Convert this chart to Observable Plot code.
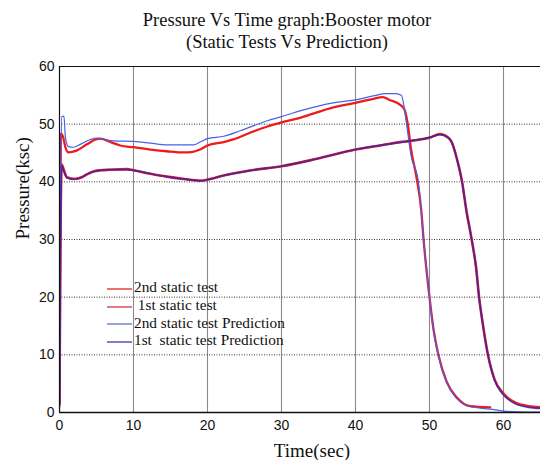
<!DOCTYPE html>
<html>
<head>
<meta charset="utf-8">
<script src="https://cdn.jsdelivr.net/npm/d3@7"></script>
<script src="https://cdn.jsdelivr.net/npm/@observablehq/plot@0.6"></script>
<style>
  html, body { margin: 0; padding: 0; background: #fff; }
  #wrap { position: relative; width: 540px; height: 460px; overflow: hidden; }
  #title { width: 506px; padding-left: 34px; padding-top: 9px; height: 49px; text-align: center;
           font-family: "Liberation Serif", "Times New Roman", serif; font-size: 18.5px; line-height: 22px; color: #111; }
  #legend { position: absolute; left: 106px; top: 278px; font-family: "Liberation Serif", serif; font-size: 15.3px; color: #111; }
  #legend .row { display: flex; align-items: center; height: 17.8px; white-space: pre; }
  #legend svg { display: block; margin-right: 1px; }
</style>
</head>
<body>
<div id="wrap">
  <div id="title">Pressure Vs Time graph:Booster motor<br>(Static Tests Vs Prediction)</div>
  <div id="chart"></div>
  <div id="legend"></div>
</div>
<script>
// ---- Data ----
const xTicks = [0, 10, 20, 30, 40, 50, 60];
const yTicks = [0, 10, 20, 30, 40, 50, 60];

// 2nd static test (upper red curve)
const test2T = [0, 0.1, 0.2, 0.5, 0.8, 1.2, 2.3, 3.7, 5, 5.5, 6.9, 8.2, 10, 12.3, 14.5, 16.8, 18, 19, 20, 22.2, 23.6, 25.9, 28.1, 30, 32.5, 37, 40, 42.4, 43.7, 44.6, 46, 46.6, 47.1, 47.5, 48.2, 48.9, 49.2, 50, 50.5, 51.2, 52.3, 53.7, 55.5, 58.2];
const test2V = [1.5, 30, 48.4, 47.7, 46, 45.1, 45.4, 46.5, 47.4, 47.5, 46.9, 46.3, 46, 45.6, 45.3, 45.1, 45.2, 45.6, 46.3, 46.9, 47.4, 48.6, 49.6, 50.3, 51.1, 52.9, 53.7, 54.4, 54.7, 54.2, 53.4, 52.6, 49.7, 45.7, 41.1, 34.9, 30, 20, 14.8, 10, 5.4, 2.6, 1.1, 0.9];

// 1st static test (lower red curve)
const test1T = [0, 0.1, 0.3, 0.6, 1, 2, 3, 3.7, 4.6, 5.5, 6.8, 9.1, 10, 12.3, 14.5, 16.8, 19, 20.4, 22.2, 25.9, 30, 34.8, 40, 43.7, 46, 47.4, 50.1, 51.4, 52.5, 53, 53.7, 54.4, 55, 55.7, 56.3, 56.7, 57.2, 57.9, 58.8, 59.9, 61.6, 63.4, 65];
const test1V = [1.5, 25, 43, 42, 40.8, 40.5, 40.8, 41.3, 41.8, 42, 42.1, 42.2, 42, 41.4, 40.9, 40.5, 40.2, 40.5, 41.1, 42, 42.7, 44, 45.6, 46.4, 46.9, 47.1, 47.7, 48.3, 47.7, 46.9, 44, 40, 34.9, 30, 25.1, 20, 15.4, 10, 5.7, 3.4, 1.7, 1.1, 0.9];

// 2nd static test prediction (upper blue curve)
const pred2T = [0, 0.15, 0.3, 0.6, 0.8, 1.2, 1.9, 2.8, 4.1, 5, 5.9, 7.3, 10, 12.3, 14.5, 18.1, 19, 20, 22.2, 24.5, 28.1, 30, 32.5, 37, 40, 42.4, 44.2, 45.4, 46.2, 46.5, 46.9, 47.5, 48.5, 49.2, 50, 50.5, 51.2, 52.3, 53.7, 55.5, 58.2, 60, 62, 65];
const pred2V = [0.5, 35, 51.3, 51.4, 47.7, 46.1, 46, 46.5, 47.3, 47.6, 47.4, 47.1, 47, 46.7, 46.4, 46.4, 46.9, 47.5, 47.9, 48.9, 50.6, 51.3, 52.3, 53.7, 54.2, 54.9, 55.3, 55.3, 55, 53.5, 50, 44.6, 40, 30, 20, 14.6, 9.8, 5.2, 2.4, 1.0, 0.6, 0.25, 0.1, 0.05];

// 1st static test prediction (lower blue curve)
const pred1T = [0, 0.1, 0.3, 0.6, 1, 2, 3, 3.7, 4.6, 5.5, 6.8, 9.1, 10, 12.3, 14.5, 16.8, 19, 20.4, 22.2, 25.9, 30, 34.8, 40, 43.7, 46, 47.4, 50.1, 51.4, 52.5, 53, 53.7, 54.4, 55, 55.7, 56.3, 56.7, 57.2, 57.9, 58.8, 59.9, 61.6, 63.4, 65];
const pred1V = [1, 25, 42.8, 41.8, 40.7, 40.5, 40.8, 41.3, 41.8, 42, 42.1, 42.1, 42, 41.4, 40.9, 40.5, 40.2, 40.5, 41.1, 42, 42.7, 44, 45.6, 46.4, 46.8, 47.1, 47.7, 48.2, 47.7, 46.8, 44, 40, 34.9, 30, 25, 20, 15.3, 10, 5.6, 3.2, 1.5, 0.9, 0.7];

const legendNames = ["2nd static test", " 1st static test", "2nd static test Prediction", "1st  static test Prediction"];
const legendColors = ["#e02424", "#d83040", "#6670c4", "#3c36a8"];

// ---- Build tables ----
const toRows = (ts, vs) => ts.map((t, i) => ({t, v: vs[i]}));
const test2 = toRows(test2T, test2V);
const test1 = toRows(test1T, test1V);
const pred2 = toRows(pred2T, pred2V);
const pred1 = toRows(pred1T, pred1V);

const serif = "Liberation Serif, Times New Roman, serif";
const sans = "Liberation Sans, Arial, sans-serif";

const chart = Plot.plot({
  width: 540,
  height: 402,
  marginTop: 8,
  marginBottom: 48,
  marginLeft: 59,
  marginRight: 0,
  style: {fontFamily: sans, fontSize: "14px", color: "#111", background: "#fff"},
  x: {domain: [0, 65]},
  y: {domain: [0, 60]},
  marks: [
    Plot.gridX(xTicks.filter(d => d > 0), {stroke: "#8a8a8a", strokeOpacity: 1, strokeWidth: 1.1}),
    Plot.gridY(yTicks.filter(d => d > 0 && d < 60), {stroke: "#222", strokeOpacity: 0.9, strokeDasharray: "1,1.5"}),
    Plot.ruleY([60], {stroke: "#111", strokeWidth: 1.2}),
    Plot.line(test2, {x: "t", y: "v", stroke: "#ee1b1b", strokeWidth: 2.3, curve: "monotone-x", clip: true}),
    Plot.line(test1, {x: "t", y: "v", stroke: "#e8202a", strokeWidth: 2.6, curve: "monotone-x", clip: true}),
    Plot.line(pred2, {x: "t", y: "v", stroke: "#4a5fe6", strokeWidth: 1.2, curve: "monotone-x", clip: true}),
    Plot.line(pred1, {x: "t", y: "v", stroke: "#3a22a8", strokeWidth: 1.7, strokeOpacity: 0.85, curve: "monotone-x", clip: true}),
    Plot.ruleX([0], {stroke: "#111", strokeWidth: 1.2}),
    Plot.ruleY([0], {stroke: "#111", strokeWidth: 1.6}),
    Plot.axisX(xTicks, {tickSize: 0, tickPadding: 8, label: null, fontSize: 14}),
    Plot.axisY(yTicks, {tickSize: 0, tickPadding: 5, label: null, fontSize: 14}),
    Plot.text(["Time(sec)"], {frameAnchor: "bottom", dy: 38, dx: 12, lineAnchor: "middle", fontSize: 19, fontFamily: serif, fill: "#111"}),
    Plot.text(["Pressure(ksc)"], {frameAnchor: "left", rotate: -90, dx: -37, lineAnchor: "middle", fontSize: 19, fontFamily: serif, fill: "#111"})
  ]
});
document.getElementById("chart").appendChild(chart);

// ---- Legend ----
const legend = document.getElementById("legend");
legendNames.forEach((name, i) => {
  const row = document.createElement("div");
  row.className = "row";
  row.innerHTML = `<svg width="27" height="10"><line x1="1" x2="26" y1="7" y2="7" stroke="${legendColors[i]}" stroke-width="1.3"/></svg><span>${name}</span>`;
  legend.appendChild(row);
});
</script>
</body>
</html>
